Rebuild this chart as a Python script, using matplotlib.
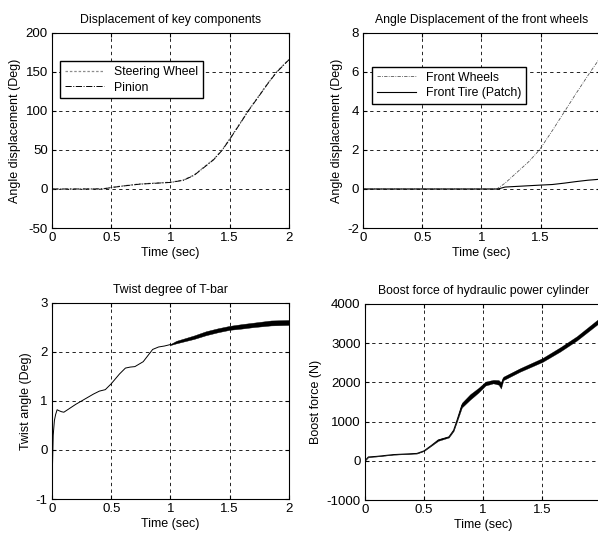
import matplotlib.pyplot as plt
import numpy as np

plt.rcParams['font.family'] = ['Liberation Sans', 'DejaVu Sans']
plt.rcParams['font.size'] = 8.5
plt.rcParams['axes.unicode_minus'] = False

# --- panel 1: displacement of key components
t_disp = [0, 0.2, 0.43, 0.5, 0.6, 0.74, 0.9, 1.0, 1.11, 1.2, 1.28, 1.365, 1.436,
          1.5, 1.6, 1.655, 1.75, 1.82, 1.896, 2.0]
steering = [0, 0, 0.2, 2.0, 4.0, 6.4, 7.8, 8.6, 11.5, 18, 27.7, 38, 50,
            64, 87, 100, 120, 135, 150, 166]
pinion = [0, 0, 0.1, 1.8, 3.8, 6.2, 7.6, 8.4, 11.2, 17.5, 27.2, 37.5, 49.5,
          63.5, 86.5, 99.5, 119.5, 134.5, 149.5, 165.5]

# --- panel 2: front wheels angle
t_fw = [0, 1.0, 1.13, 1.2, 1.3, 1.4, 1.49, 1.6, 1.7, 1.8, 1.92, 2.0]
front_wheels = [0, 0, 0, 0.3, 0.85, 1.4, 2.0, 3.0, 3.95, 4.9, 6.0, 6.7]
t_ft = [0, 1.0, 1.14, 1.2, 1.35, 1.5, 1.6, 1.7, 1.8, 1.9, 2.0]
front_tire = [0, 0, 0, 0.1, 0.15, 0.2, 0.23, 0.3, 0.38, 0.45, 0.5]

# --- panel 3: twist of T-bar
t_twist = [0, 0.004, 0.01, 0.02, 0.03, 0.043, 0.06, 0.08, 0.1, 0.15, 0.2, 0.25,
           0.3, 0.35, 0.4, 0.45, 0.5, 0.57, 0.62, 0.66, 0.7, 0.77, 0.85, 0.9,
           0.95, 1.0]
twist = [0, -0.3, 0.3, 0.6, 0.72, 0.82, 0.8, 0.78, 0.77, 0.85, 0.93, 1.0,
         1.07, 1.14, 1.2, 1.23, 1.35, 1.55, 1.67, 1.69, 1.7, 1.8, 2.05, 2.1,
         2.12, 2.15]
t_twist_band = [1.0, 1.05, 1.2, 1.3, 1.4, 1.5, 1.6, 1.7, 1.85, 2.0]
twist_band = [2.15, 2.2, 2.3, 2.38, 2.44, 2.49, 2.52, 2.55, 2.59, 2.6]
twist_halfwidth = [0.01, 0.025, 0.035, 0.04, 0.04, 0.04, 0.045, 0.045, 0.05, 0.05]

# --- panel 4: boost force
t_boost = [0, 0.03, 0.1, 0.24, 0.44, 0.5, 0.565, 0.62, 0.71, 0.75, 0.775, 0.82,
           0.89, 0.96, 1.02, 1.085, 1.13, 1.15, 1.17, 1.31, 1.5, 1.65, 1.79,
           1.97, 2.0]
boost = [0, 100, 115, 160, 190, 255, 400, 530, 610, 780, 1000, 1420,
         1630, 1800, 1970, 2020, 2000, 1920, 2100, 2315, 2570, 2840, 3120,
         3550, 3600]
boost_halfwidth = [0, 5, 5, 5, 5, 5, 10, 20, 15, 20, 30, 60,
                   70, 60, 50, 45, 60, 80, 45, 45, 50, 55, 55, 60, 60]

fig = plt.figure(figsize=(5.98, 5.36), dpi=100)


def style(ax, title, ylabel, ylim, yticks, xticks):
    ax.set_xlim(0, 2)
    ax.set_ylim(*ylim)
    ax.set_yticks(yticks)
    ax.set_xticks(xticks)
    ax.set_xticklabels([f'{v:g}' for v in xticks])
    ax.grid(True, color='black', linestyle=(0, (4, 4)), linewidth=0.6)
    ax.tick_params(direction='in', top=True, right=True, length=3, labelsize=9.5, pad=3)
    for s in ax.spines.values():
        s.set_linewidth(0.8)
    ax.set_title(title, fontsize=8.8, pad=7)
    ax.set_xlabel('Time (sec)', fontsize=9, labelpad=2)
    ax.set_ylabel(ylabel, fontsize=9, labelpad=3)


legend_kw = dict(loc='upper left', fancybox=False, edgecolor='black', framealpha=1,
                 fontsize=8.8, borderpad=0.4, labelspacing=0.3, borderaxespad=0)

ax1 = fig.add_axes([0.087, 0.5746, 0.396, 0.364])
ax1.plot(t_disp, steering, color='0.55', linestyle=(0, (2, 1.5)), linewidth=0.9,
         label='Steering Wheel')
ax1.plot(t_disp, pinion, color='black', linestyle='-.', linewidth=0.7, label='Pinion')
style(ax1, 'Displacement of key components', 'Angle displacement (Deg)',
      (-50, 200), [-50, 0, 50, 100, 150, 200], [0, 0.5, 1, 1.5, 2])
ax1.legend(bbox_to_anchor=(0.034, 0.856), handlelength=3.2, **legend_kw)

ax2 = fig.add_axes([0.607, 0.5746, 0.396, 0.364])
ax2.plot(t_fw, front_wheels, color='0.35', linestyle=(0, (4, 1.5, 1, 1.5)),
         linewidth=0.6, label='Front Wheels')
ax2.plot(t_ft, front_tire, color='black', linewidth=0.8, label='Front Tire (Patch)')
style(ax2, 'Angle Displacement of the front wheels', 'Angle displacement (Deg)',
      (-2, 8), [-2, 0, 2, 4, 6, 8], [0, 0.5, 1, 1.5])
ax2.legend(bbox_to_anchor=(0.038, 0.827), handlelength=3.2, **legend_kw)

ax3 = fig.add_axes([0.087, 0.069, 0.396, 0.366])
ax3.plot(t_twist, twist, color='black', linewidth=0.7)
lo = np.array(twist_band) - np.array(twist_halfwidth)
hi = np.array(twist_band) + np.array(twist_halfwidth)
ax3.fill_between(t_twist_band, lo, hi, color='black', linewidth=0.3)
style(ax3, 'Twist degree of T-bar', 'Twist angle (Deg)',
      (-1, 3), [-1, 0, 1, 2, 3], [0, 0.5, 1, 1.5, 2])

ax4 = fig.add_axes([0.610, 0.067, 0.396, 0.366])
ax4.plot(t_boost, boost, color='black', linewidth=0.7)
lo = np.array(boost) - np.array(boost_halfwidth)
hi = np.array(boost) + np.array(boost_halfwidth)
ax4.fill_between(t_boost, lo, hi, color='black', linewidth=0.2)
style(ax4, 'Boost force of hydraulic power cylinder', 'Boost force (N)',
      (-1000, 4000), [-1000, 0, 1000, 2000, 3000, 4000], [0, 0.5, 1, 1.5])

fig.savefig('out.png', dpi=100)
